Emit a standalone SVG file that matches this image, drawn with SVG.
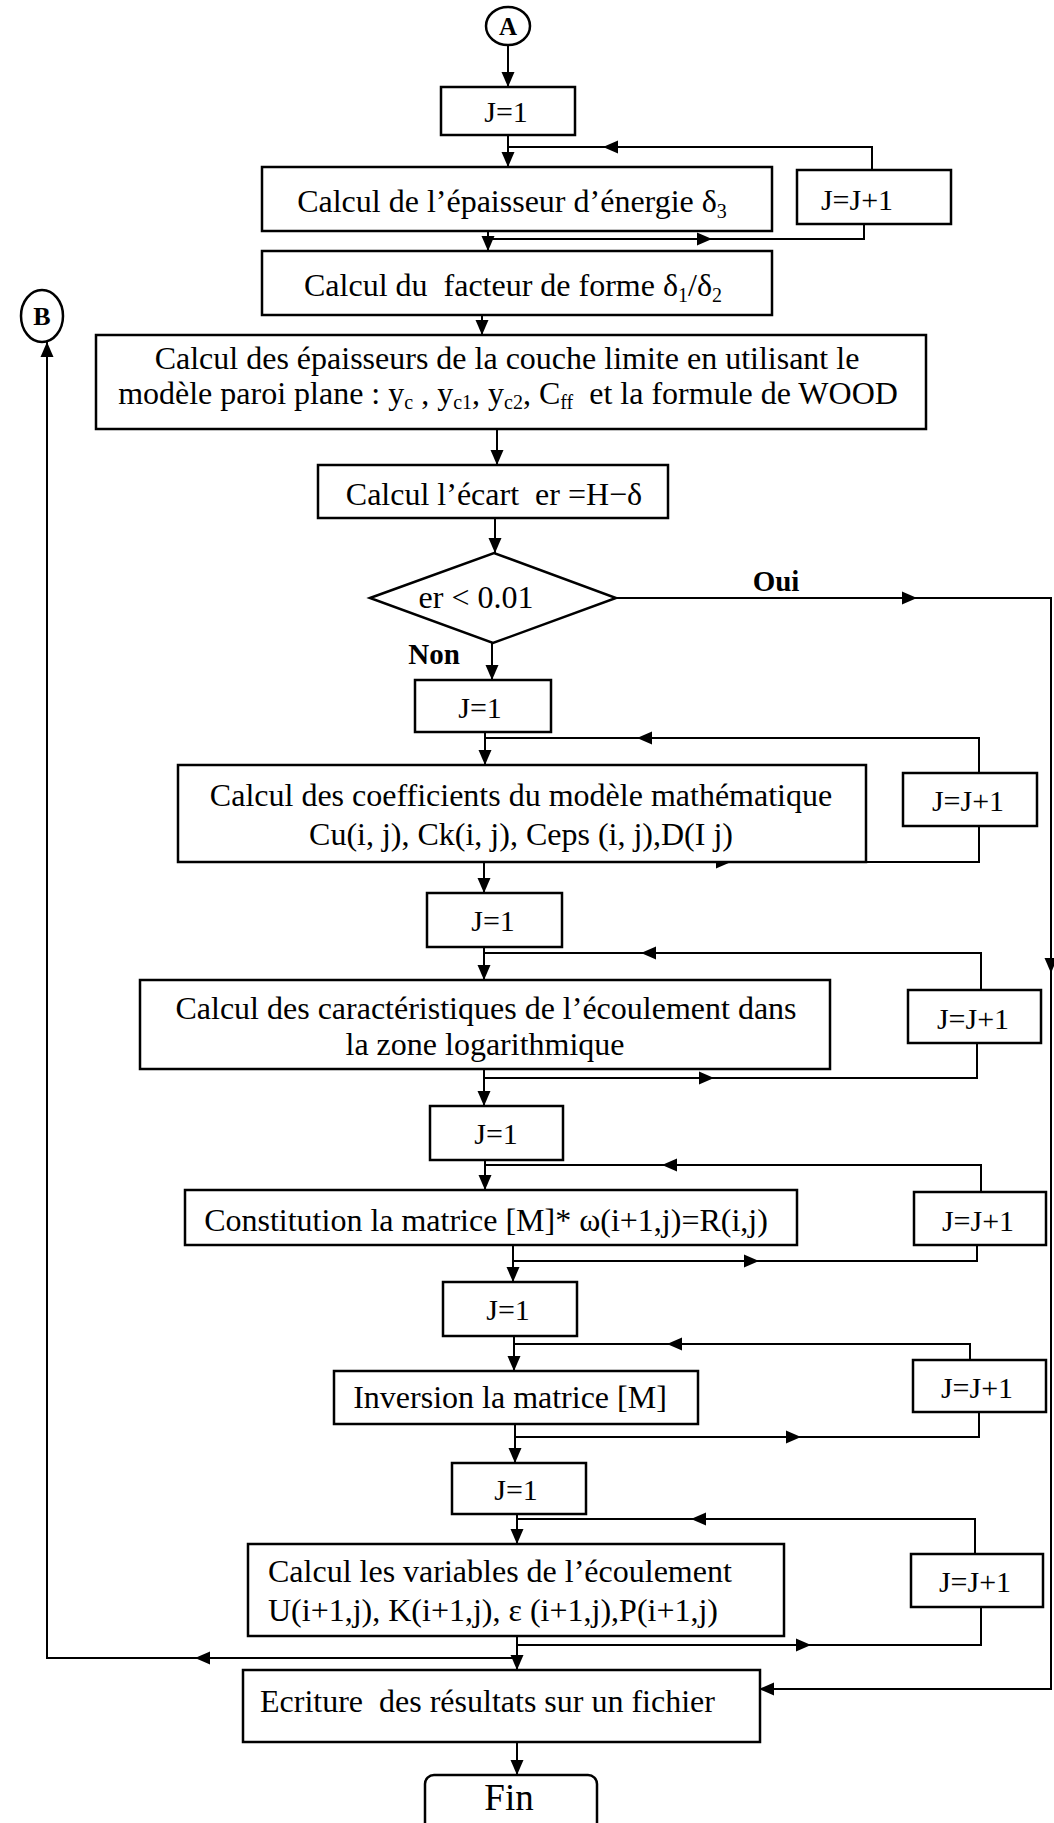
<svg xmlns="http://www.w3.org/2000/svg" xmlns:xlink="http://www.w3.org/1999/xlink" width="1054" height="1823" viewBox="0 0 1054 1823">
  <defs>
    <style>
      .box { fill: #fff; stroke: #000; stroke-width: 2.5; }
      .conn line, .conn polyline { stroke: #000; stroke-width: 2; fill: none; }
      .ah { fill: #000; }
      text { font-family: "Liberation Serif", "Times New Roman", serif; font-size: 32px; fill: #000; }
      .j { font-size: 30px; }
      .m { text-anchor: middle; }
      .b { font-weight: bold; }
      .sub { font-size: 20px; }
    </style>
    <!-- arrowhead pointing along +x, tip at origin -->
    <path id="ah" class="ah" d="M0,0 L-15,-6.5 L-15,6.5 Z"/>
  </defs>

  <rect width="1054" height="1823" fill="#fff"/>

  <!-- connectors -->
  <g id="connectors" class="conn">
    <line x1="508" y1="45" x2="508" y2="87"/>
    <use xlink:href="#ah" transform="translate(508,87) rotate(90)"/>
    <line x1="508" y1="135" x2="508" y2="167"/>
    <use xlink:href="#ah" transform="translate(508,167) rotate(90)"/>
    <polyline points="508,147 872,147 872,170"/>
    <use xlink:href="#ah" transform="translate(603,147) rotate(180)"/>
    <polyline points="864,224 864,239 488,239"/>
    <use xlink:href="#ah" transform="translate(712,239)"/>
    <line x1="488" y1="231" x2="488" y2="251"/>
    <use xlink:href="#ah" transform="translate(488,251) rotate(90)"/>
    <line x1="482" y1="315" x2="482" y2="335"/>
    <use xlink:href="#ah" transform="translate(482,335) rotate(90)"/>
    <line x1="497" y1="429" x2="497" y2="465"/>
    <use xlink:href="#ah" transform="translate(497,465) rotate(90)"/>
    <line x1="495" y1="518" x2="495" y2="553"/>
    <use xlink:href="#ah" transform="translate(495,553) rotate(90)"/>

    <!-- Oui branch -->
    <polyline points="616,598 1051,598 1051,1689 758,1689"/>
    <use xlink:href="#ah" transform="translate(917,598)"/>
    <use xlink:href="#ah" transform="translate(1051,973) rotate(90)"/>
    <use xlink:href="#ah" transform="translate(759,1689) rotate(180)"/>

    <!-- Non branch -->
    <line x1="492" y1="643" x2="492" y2="680"/>
    <use xlink:href="#ah" transform="translate(492,680) rotate(90)"/>

    <line x1="485" y1="732" x2="485" y2="765"/>
    <use xlink:href="#ah" transform="translate(485,765) rotate(90)"/>
    <polyline points="485,738 979,738 979,773"/>
    <use xlink:href="#ah" transform="translate(637,738) rotate(180)"/>
    <polyline points="979,826 979,862 866,862"/>
    <use xlink:href="#ah" transform="translate(731,862)"/>

    <line x1="484" y1="862" x2="484" y2="893"/>
    <use xlink:href="#ah" transform="translate(484,893) rotate(90)"/>
    <line x1="484" y1="947" x2="484" y2="980"/>
    <use xlink:href="#ah" transform="translate(484,980) rotate(90)"/>
    <polyline points="484,953 981,953 981,990"/>
    <use xlink:href="#ah" transform="translate(641,953) rotate(180)"/>
    <polyline points="977,1043 977,1078 484,1078"/>
    <use xlink:href="#ah" transform="translate(714,1078)"/>

    <line x1="484" y1="1069" x2="484" y2="1106"/>
    <use xlink:href="#ah" transform="translate(484,1106) rotate(90)"/>
    <line x1="485" y1="1160" x2="485" y2="1190"/>
    <use xlink:href="#ah" transform="translate(485,1190) rotate(90)"/>
    <polyline points="485,1165 981,1165 981,1192"/>
    <use xlink:href="#ah" transform="translate(662,1165) rotate(180)"/>
    <polyline points="977,1245 977,1261 513,1261"/>
    <use xlink:href="#ah" transform="translate(759,1261)"/>

    <line x1="513" y1="1245" x2="513" y2="1282"/>
    <use xlink:href="#ah" transform="translate(513,1282) rotate(90)"/>
    <line x1="514" y1="1336" x2="514" y2="1371"/>
    <use xlink:href="#ah" transform="translate(514,1371) rotate(90)"/>
    <polyline points="514,1344 970,1344 970,1360"/>
    <use xlink:href="#ah" transform="translate(667,1344) rotate(180)"/>
    <polyline points="979,1412 979,1437 515,1437"/>
    <use xlink:href="#ah" transform="translate(801,1437)"/>

    <line x1="515" y1="1424" x2="515" y2="1463"/>
    <use xlink:href="#ah" transform="translate(515,1463) rotate(90)"/>
    <line x1="517" y1="1514" x2="517" y2="1544"/>
    <use xlink:href="#ah" transform="translate(517,1544) rotate(90)"/>
    <polyline points="517,1519 975,1519 975,1554"/>
    <use xlink:href="#ah" transform="translate(691,1519) rotate(180)"/>
    <polyline points="981,1607 981,1645 517,1645"/>
    <use xlink:href="#ah" transform="translate(811,1645)"/>

    <line x1="517" y1="1636" x2="517" y2="1670"/>
    <use xlink:href="#ah" transform="translate(517,1670) rotate(90)"/>

    <!-- return to B -->
    <polyline points="517,1658 47,1658 47,342"/>
    <use xlink:href="#ah" transform="translate(195,1658) rotate(180)"/>
    <use xlink:href="#ah" transform="translate(47,342) rotate(-90)"/>

    <line x1="517" y1="1742" x2="517" y2="1775"/>
    <use xlink:href="#ah" transform="translate(517,1775) rotate(90)"/>
  </g>

  <!-- connector A -->
  <g id="node-A">
    <ellipse class="box" cx="508" cy="26" rx="22" ry="19"/>
    <text class="m b" x="508" y="35" style="font-size:25px">A</text>
  </g>

  <!-- connector B -->
  <g id="node-B">
    <ellipse class="box" cx="42" cy="316" rx="21" ry="26"/>
    <text class="m b" x="42" y="325" style="font-size:26px">B</text>
  </g>

  <g id="init-1">
    <rect class="box" x="441" y="87" width="134" height="48"/>
    <text class="j m" x="506" y="122">J=1</text>
  </g>

  <g id="energy-thickness">
    <rect class="box" x="262" y="167" width="510" height="64"/>
    <text class="m" x="512" y="212">Calcul de l’épaisseur d’énergie δ<tspan class="sub" dy="6">3</tspan></text>
  </g>

  <g id="incr-1">
    <rect class="box" x="797" y="170" width="154" height="54"/>
    <text class="j m" x="857" y="210">J=J+1</text>
  </g>

  <g id="shape-factor">
    <rect class="box" x="262" y="251" width="510" height="64"/>
    <text class="m" x="513" y="296" xml:space="preserve">Calcul du  facteur de forme δ<tspan class="sub" dy="6">1</tspan><tspan dy="-6">/δ</tspan><tspan class="sub" dy="6">2</tspan></text>
  </g>

  <g id="boundary-layer">
    <rect class="box" x="96" y="335" width="830" height="94"/>
    <text class="m" x="507" y="369">Calcul des épaisseurs de la couche limite en utilisant le</text>
    <text class="m" x="508" y="404" xml:space="preserve">modèle paroi plane : y<tspan class="sub" dy="5">c</tspan><tspan dy="-5"> , y</tspan><tspan class="sub" dy="5">c1</tspan><tspan dy="-5">, y</tspan><tspan class="sub" dy="5">c2</tspan><tspan dy="-5">, C</tspan><tspan class="sub" dy="5">ff</tspan><tspan dy="-5">  et la formule de WOOD</tspan></text>
  </g>

  <g id="gap">
    <rect class="box" x="318" y="465" width="350" height="53"/>
    <text class="m" x="494" y="505" xml:space="preserve">Calcul l’écart  er =H−δ</text>
  </g>

  <g id="test">
    <polygon class="box" points="370,598 494,553 616,598 493,643"/>
    <text class="m" x="476" y="608">er &lt; 0.01</text>
  </g>
  <text id="label-oui" class="m b" x="776" y="591" style="font-size:29px">Oui</text>
  <text id="label-non" class="m b" x="434" y="664" style="font-size:29px">Non</text>

  <g id="init-2">
    <rect class="box" x="415" y="680" width="136" height="52"/>
    <text class="j m" x="480" y="718">J=1</text>
  </g>

  <g id="coefficients">
    <rect class="box" x="178" y="765" width="688" height="97"/>
    <text class="m" x="521" y="806">Calcul des coefficients du modèle mathématique</text>
    <text class="m" x="521" y="845">Cu(i, j), Ck(i, j), Ceps (i, j),D(I j)</text>
  </g>

  <g id="incr-2">
    <rect class="box" x="903" y="773" width="134" height="53"/>
    <text class="j m" x="968" y="811">J=J+1</text>
  </g>

  <g id="init-3">
    <rect class="box" x="427" y="893" width="135" height="54"/>
    <text class="j m" x="493" y="931">J=1</text>
  </g>

  <g id="log-zone">
    <rect class="box" x="140" y="980" width="690" height="89"/>
    <text class="m" x="486" y="1019">Calcul des caractéristiques de l’écoulement dans</text>
    <text class="m" x="485" y="1055">la zone logarithmique</text>
  </g>

  <g id="incr-3">
    <rect class="box" x="908" y="990" width="133" height="53"/>
    <text class="j m" x="973" y="1029">J=J+1</text>
  </g>

  <g id="init-4">
    <rect class="box" x="430" y="1106" width="133" height="54"/>
    <text class="j m" x="496" y="1144">J=1</text>
  </g>

  <g id="matrix-build">
    <rect class="box" x="185" y="1190" width="612" height="55"/>
    <text class="m" x="486" y="1231">Constitution la matrice [M]* ω(i+1,j)=R(i,j)</text>
  </g>

  <g id="incr-4">
    <rect class="box" x="914" y="1192" width="132" height="53"/>
    <text class="j m" x="978" y="1231">J=J+1</text>
  </g>

  <g id="init-5">
    <rect class="box" x="443" y="1282" width="134" height="54"/>
    <text class="j m" x="508" y="1320">J=1</text>
  </g>

  <g id="matrix-invert">
    <rect class="box" x="334" y="1371" width="364" height="53"/>
    <text class="m" x="510" y="1408">Inversion la matrice [M]</text>
  </g>

  <g id="incr-5">
    <rect class="box" x="913" y="1360" width="133" height="52"/>
    <text class="j m" x="977" y="1398">J=J+1</text>
  </g>

  <g id="init-6">
    <rect class="box" x="452" y="1463" width="134" height="51"/>
    <text class="j m" x="516" y="1500">J=1</text>
  </g>

  <g id="flow-variables">
    <rect class="box" x="248" y="1544" width="536" height="92"/>
    <text x="268" y="1582">Calcul les variables de l’écoulement</text>
    <text x="268" y="1621">U(i+1,j), K(i+1,j), ε (i+1,j),P(i+1,j)</text>
  </g>

  <g id="incr-6">
    <rect class="box" x="911" y="1554" width="132" height="53"/>
    <text class="j m" x="975" y="1592">J=J+1</text>
  </g>

  <g id="write-results">
    <rect class="box" x="243" y="1670" width="517" height="72"/>
    <text x="260" y="1712" xml:space="preserve">Ecriture  des résultats sur un fichier</text>
  </g>

  <g id="end">
    <rect class="box" x="425" y="1775" width="172" height="62" rx="9"/>
    <text class="m" x="509" y="1810" style="font-size:37px">Fin</text>
  </g>
</svg>
